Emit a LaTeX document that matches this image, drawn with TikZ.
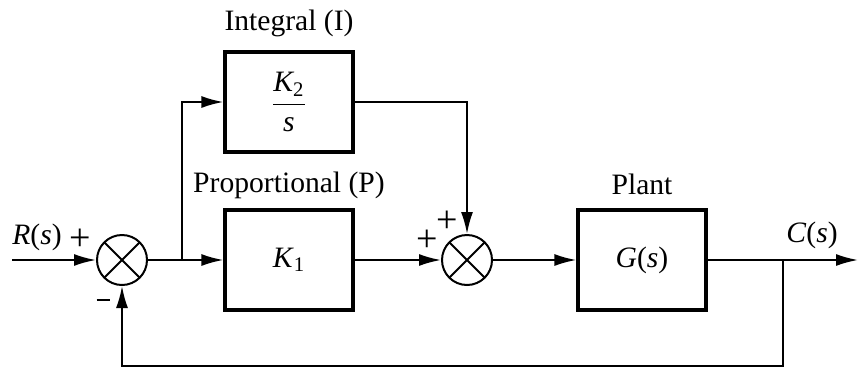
\documentclass[tikz,border=0pt]{standalone}
\usepackage{fontspec}
\setmainfont{Liberation Serif}
\usepackage{amsmath}
\usetikzlibrary{arrows.meta}

\begin{document}
\begin{tikzpicture}[x=0.5pt, y=-0.5pt,
  font=\fontsize{14.8}{17}\selectfont,
  block/.style={draw, line width=1.6pt, minimum width=64pt, minimum height=50pt, inner sep=0pt},
  sumnode/.style={draw, circle, line width=1pt, minimum size=25pt, inner sep=0pt,
    path picture={\draw[line width=1pt]
      (path picture bounding box.north west) -- (path picture bounding box.south east)
      (path picture bounding box.north east) -- (path picture bounding box.south west);}},
  sign/.style={font=\fontsize{19}{20}\selectfont, inner sep=0pt},
  signal/.style={line width=1pt, -{Latex[length=11pt, width=6pt]}},
  wire/.style={line width=1pt}]
  \useasboundingbox (0,0) rectangle (860,370);

  % blocks and summing points
  \node[sumnode] (sumA) at (122,260) {};
  \node[block] (integ) at (289,102) {$\dfrac{\textit{K}_{\text{2}}}{\textit{s}}$};
  \node[block] (prop) at (289,260) {\textit{K}$_{\text{1}}$};
  \node[sumnode] (sumB) at (467,260) {};
  \node[block] (plant) at (642,260) {\textit{G}(\textit{s})};

  \coordinate (in) at (12,260);
  \coordinate (out) at (858,260);
  \coordinate (split) at (182,260);
  \coordinate (tap) at (783,260);
  \coordinate (fb) at (783,366);

  % labels
  \node (integlbl) at (289,23) {Integral (I)};
  \node (proplbl) at (289,185) {Proportional (P)};
  \node (plantlbl) at (642,184) {Plant};
  \node (rlbl) at (37,237) {\textit{R}(\textit{s})};
  \node (clbl) at (812,235) {\textit{C}(\textit{s})};
  \node[sign] (plusA) at (80,240) {+};
  \node[sign] (minusA) at (103,300) {\rule{6.5pt}{1.3pt}};
  \node[sign] (plusB1) at (447,222) {+};
  \node[sign] (plusB2) at (427,241) {+};

  % signals
  \draw[signal] (in) -- (sumA);
  \draw[wire] (sumA) -- (split);
  \draw[signal] (split) -- (prop);
  \draw[signal] (split) |- (integ);
  \draw[signal] (integ) -| (sumB);
  \draw[signal] (prop) -- (sumB);
  \draw[signal] (sumB) -- (plant);
  \draw[signal] (plant) -- (out);
  \draw[signal] (tap) -- (fb) -| (sumA);
\end{tikzpicture}
\end{document}
